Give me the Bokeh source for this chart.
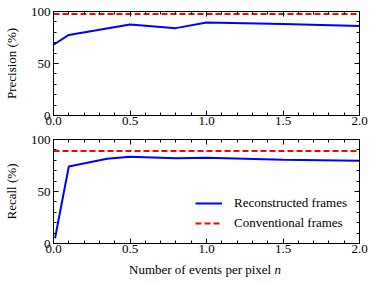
from bokeh.plotting import figure
from bokeh.layouts import column
from bokeh.models import (LinearAxis, SingleIntervalTicker, NumeralTickFormatter,
                          CustomJSTickFormatter, Range1d, Legend, LegendItem, Div)
from bokeh.embed import file_html
from bokeh.resources import INLINE

# ---- data ----
x_prec = [0.0, 0.1, 0.5, 0.8, 1.0, 1.5, 2.0]
precision_recon = [68, 77.5, 87.5, 84, 89.5, 88, 86]
x_rec = [0.01, 0.1, 0.35, 0.5, 0.8, 1.0, 1.5, 2.0]
recall_recon = [5, 74, 81.5, 83.5, 82, 82.5, 80.5, 79.5]
x_conv = [0.0, 2.0]
precision_conv = [97.5, 97.5]
recall_conv = [89, 89]

FONT = "Liberation Serif"
BLUE = "#0000ff"
RED = "#ff0000"
WIDTH = 372


def style_axis(ax, labels=True):
    ax.axis_line_color = "black"
    ax.major_tick_in = 5
    ax.major_tick_out = 0
    ax.minor_tick_in = 3
    ax.minor_tick_out = 0
    ax.major_tick_line_color = "black"
    ax.minor_tick_line_color = "black"
    ax.major_label_text_font = FONT
    ax.major_label_text_color = "black"
    if labels:
        ax.major_label_text_font_size = "13px"
        ax.major_label_standoff = 2
    else:
        ax.formatter = CustomJSTickFormatter(code="return ''")
        ax.major_label_text_font_size = "1px"
        ax.major_label_standoff = 0


def make_fig(height, border_top, border_bottom, ylabel):
    p = figure(width=WIDTH, height=height, x_range=Range1d(0, 2), y_range=Range1d(0, 100),
               output_backend="svg", toolbar_location=None,
               x_axis_type=None, y_axis_type=None,
               min_border_left=51, min_border_right=WIDTH - 359, min_border_top=border_top,
               min_border_bottom=border_bottom)
    p.outline_line_color = "black"
    p.outline_line_width = 1
    p.background_fill_color = "white"
    p.border_fill_color = "white"
    for loc, lab in (("below", True), ("above", False)):
        ax = LinearAxis(ticker=SingleIntervalTicker(interval=0.5, num_minor_ticks=5),
                        formatter=NumeralTickFormatter(format="0.0"))
        style_axis(ax, lab)
        if lab:
            ax.major_label_standoff = 1
        p.add_layout(ax, loc)
    for loc, lab in (("left", True), ("right", False)):
        ax = LinearAxis(ticker=SingleIntervalTicker(interval=50, num_minor_ticks=5))
        style_axis(ax, lab)
        if lab:
            ax.major_label_standoff = 3
            ax.axis_label = ylabel
            ax.axis_label_text_font = FONT
            ax.axis_label_text_font_style = "normal"
            ax.axis_label_text_font_size = "13px"
            ax.axis_label_text_color = "black"
            ax.axis_label_standoff = 9
        p.add_layout(ax, loc)
    return p


# top panel: frame 11..115
p1 = make_fig(131, 11, 16, "Precision (%)")
p1.line(x_prec, precision_recon, line_color=BLUE, line_width=2)
p1.line(x_conv, precision_conv, line_color=RED, line_width=2, line_dash="6 3")

# bottom panel: frame 139..243
p2 = make_fig(129, 8, 17, "Recall (%)")
r1 = p2.line(x_rec, recall_recon, line_color=BLUE, line_width=2)
r2 = p2.line(x_conv, recall_conv, line_color=RED, line_width=2, line_dash="6 3")

legend = Legend(items=[LegendItem(label="Reconstructed frames", renderers=[r1]),
                       LegendItem(label="Conventional frames", renderers=[r2])],
                location=(142, 10), border_line_color=None, background_fill_alpha=0,
                padding=0, margin=0, glyph_width=27, glyph_height=20, label_height=20,
                label_standoff=12, spacing=0, label_text_font=FONT,
                label_text_font_size="13px", label_text_color="black")
p2.add_layout(legend)

xlabel = Div(text="Number of events per pixel <i>n</i>", width=308, height=20,
             margin=(0, 0, 0, 51),
             styles={"text-align": "center", "font-family": FONT, "font-size": "13px",
                     "line-height": "20px", "color": "black", "width": "308px"})

layout = column(p1, p2, xlabel, spacing=0)
open("out.html", "w").write(file_html(layout, INLINE))
